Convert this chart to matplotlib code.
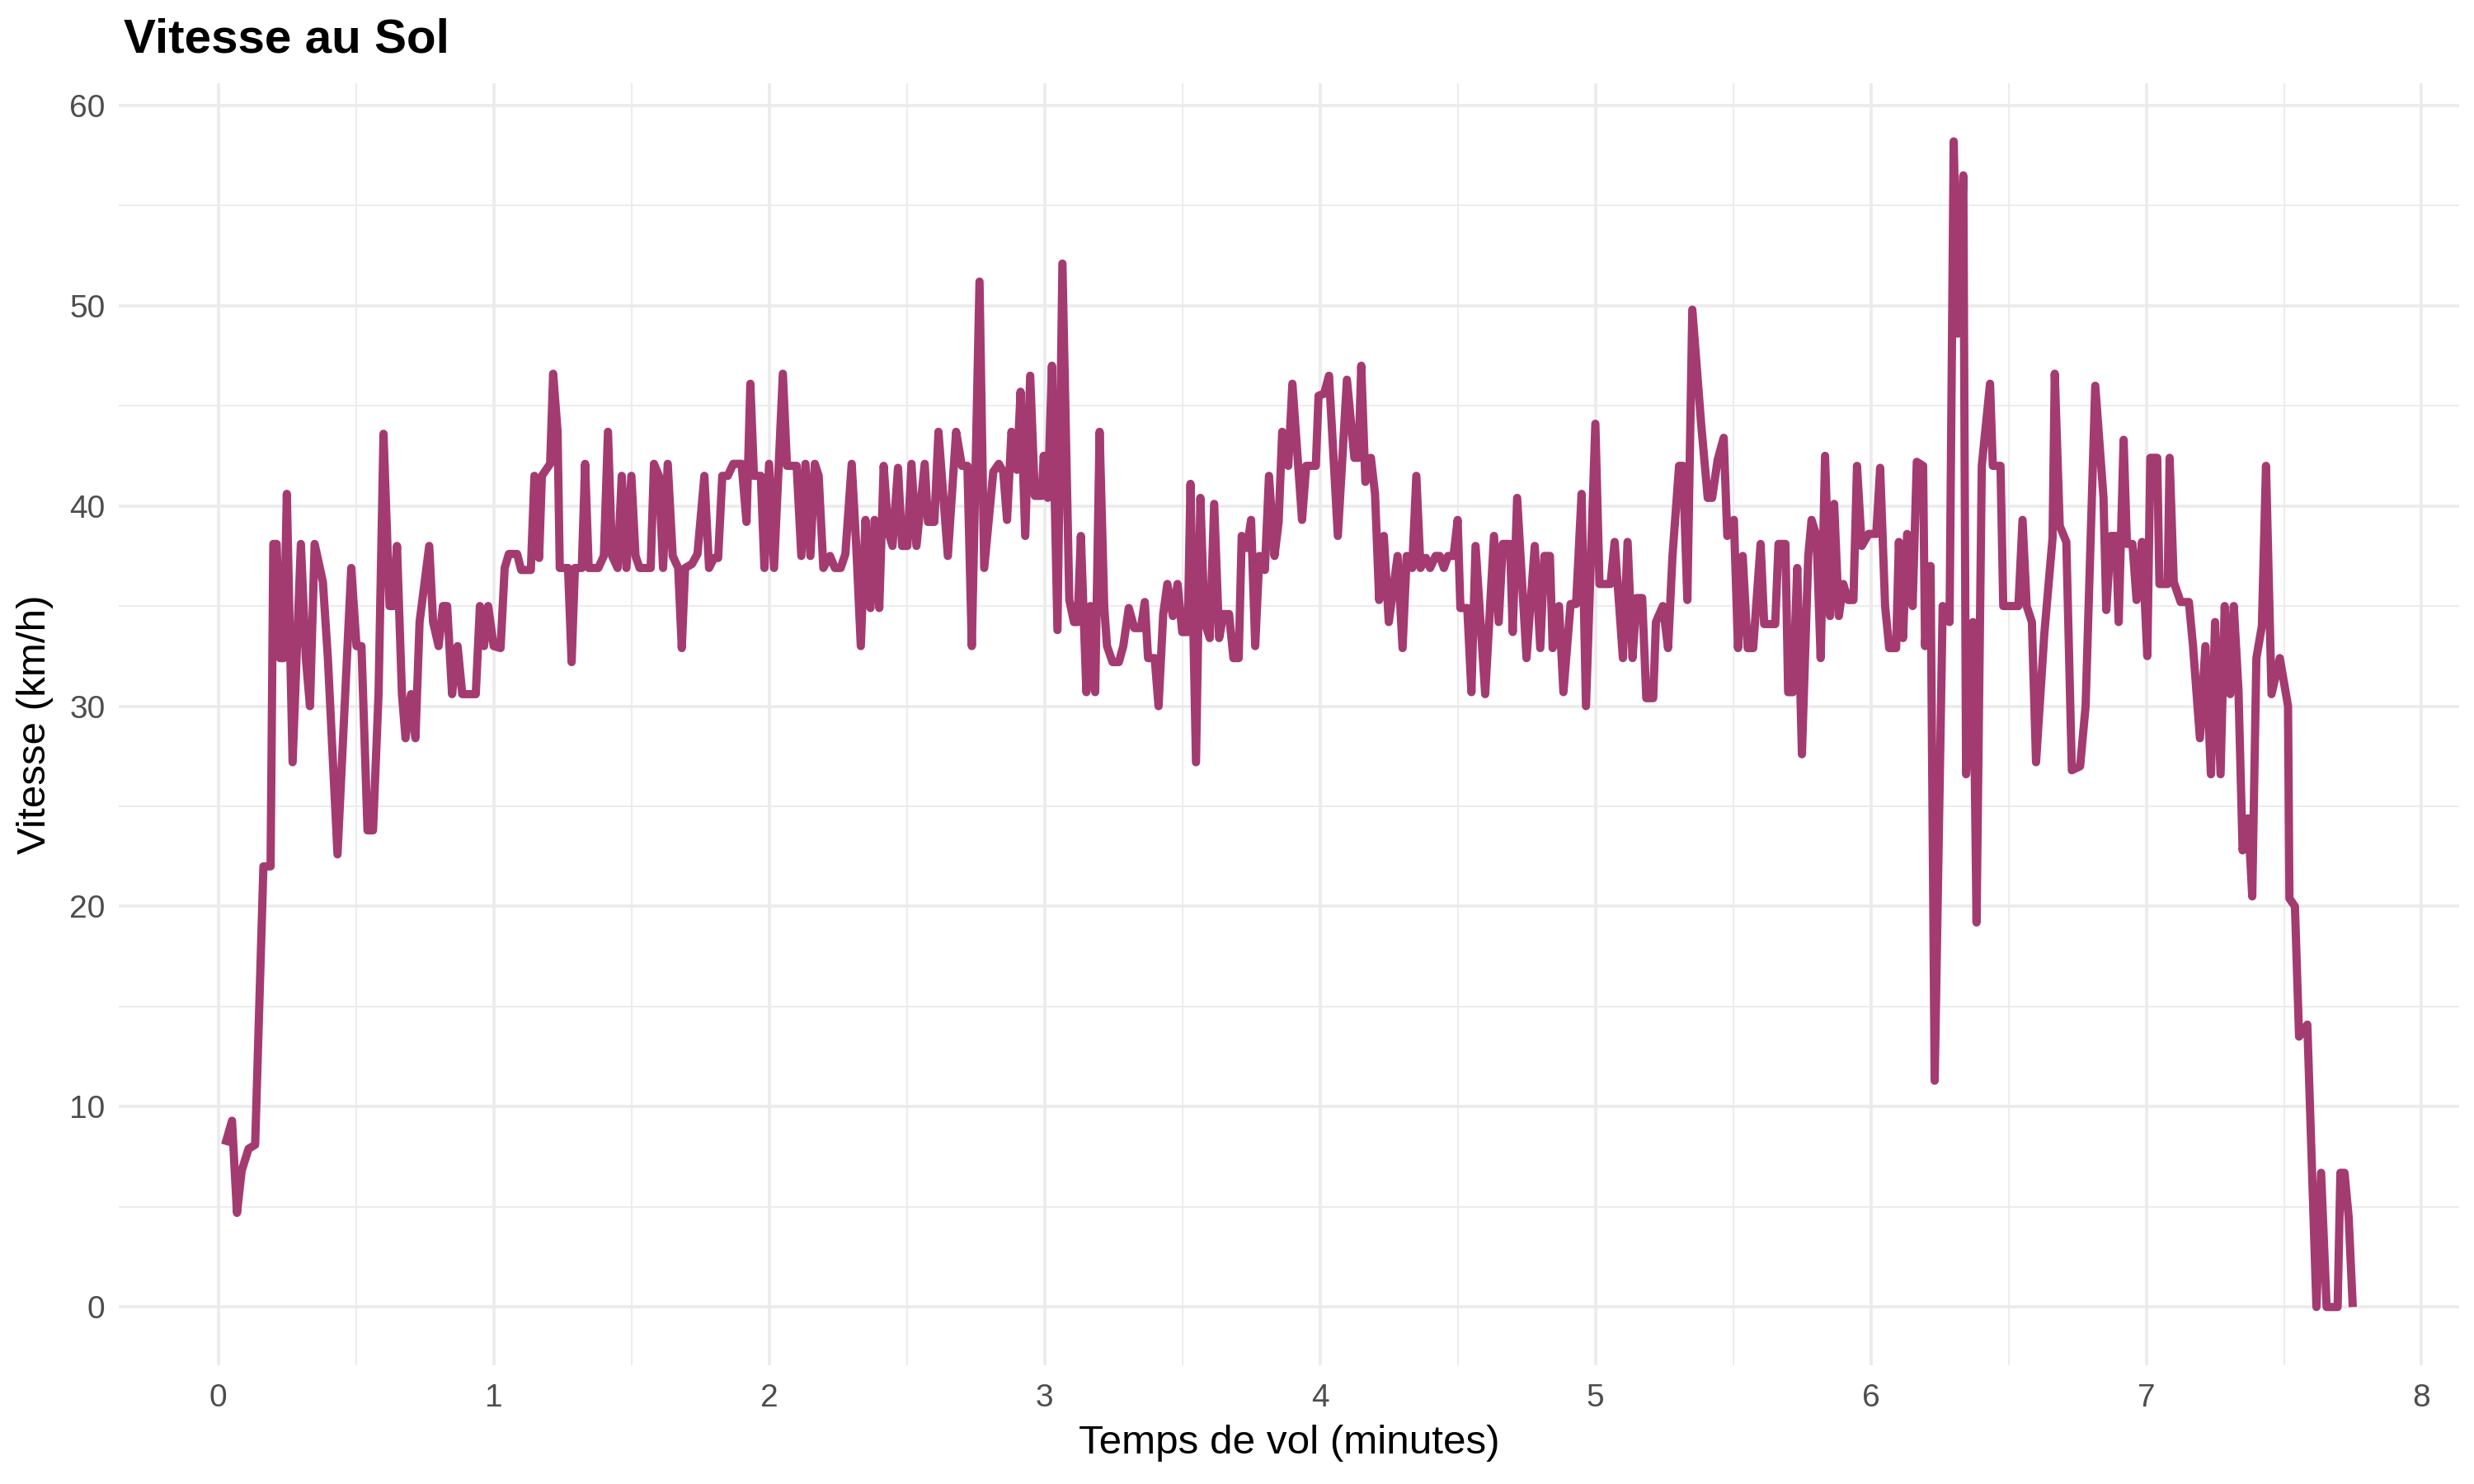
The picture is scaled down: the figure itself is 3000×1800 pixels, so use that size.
import matplotlib
matplotlib.use('Agg')
import matplotlib.pyplot as plt
from matplotlib.ticker import MultipleLocator

# temps de vol (minutes) et vitesse au sol (km/h)
temps_a = [0.025, 0.05, 0.068, 0.085, 0.11, 0.134, 0.164, 0.19, 0.2, 0.212, 0.224, 0.237, 0.249, 0.27, 0.3,
           0.318, 0.333, 0.35, 0.38, 0.398, 0.433, 0.483, 0.502, 0.52, 0.542, 0.562, 0.582, 0.6, 0.622, 0.636,
           0.649, 0.667, 0.68, 0.7, 0.716, 0.731, 0.766, 0.78, 0.8, 0.816, 0.831, 0.849, 0.869, 0.886, 0.935,
           0.95, 0.965, 0.98, 1.0]
vitesse_a = [8.1, 9.3, 4.7, 6.8, 7.9, 8.1, 22.0, 22.0, 38.1, 38.1, 32.4, 32.4, 40.6, 27.2, 38.1,
             32.4, 30.0, 38.1, 36.2, 32.4, 22.6, 36.9, 33.0, 33.0, 23.8, 23.8, 30.6, 43.6, 35.0, 35.0,
             38.0, 30.6, 28.4, 30.6, 28.4, 34.2, 38.0, 34.2, 33.0, 35.0, 35.0, 30.6, 33.0, 30.6, 30.6,
             35.0, 33.0, 35.0, 33.0]

temps_b = [1.025, 1.04, 1.055, 1.085, 1.1, 1.135, 1.148, 1.165, 1.175, 1.205, 1.216, 1.232, 1.24, 1.27, 1.283,
           1.295, 1.32, 1.332, 1.345, 1.38, 1.40, 1.415, 1.43, 1.45, 1.465, 1.482, 1.5, 1.515, 1.53, 1.57,
           1.582, 1.6, 1.615, 1.632, 1.65, 1.67, 1.683, 1.695, 1.72, 1.74, 1.765, 1.782, 1.80, 1.815, 1.83,
           1.85, 1.87, 1.9, 1.918, 1.932, 1.945, 1.97, 1.983]
vitesse_b = [32.9, 36.9, 37.6, 37.6, 36.8, 36.8, 41.5, 37.4, 41.5, 42.1, 46.6, 43.7, 36.9, 36.9, 32.2,
             36.9, 36.9, 42.1, 36.9, 36.9, 37.5, 43.7, 37.5, 36.9, 41.5, 36.9, 41.5, 37.5, 36.9, 36.9,
             42.1, 41.5, 36.9, 42.1, 37.5, 36.9, 32.9, 36.9, 37.1, 37.6, 41.5, 36.9, 37.4, 37.4, 41.5,
             41.5, 42.1, 42.1, 39.2, 46.1, 41.5, 41.5, 36.9]

temps_c = [2.0, 2.018, 2.05, 2.065, 2.1, 2.117, 2.132, 2.15, 2.166, 2.18, 2.197, 2.221, 2.239, 2.26, 2.277,
           2.3, 2.316, 2.333, 2.35, 2.368, 2.383, 2.40, 2.416, 2.433, 2.448, 2.468, 2.483, 2.502, 2.517, 2.535,
           2.565, 2.577, 2.60, 2.615, 2.649, 2.679, 2.70, 2.72, 2.736, 2.764, 2.781, 2.814, 2.834, 2.85, 2.864,
           2.88, 2.90, 2.913, 2.93, 2.948, 2.965, 2.99]
vitesse_c = [42.1, 36.9, 46.6, 42.0, 42.0, 37.5, 42.1, 37.5, 42.1, 41.5, 36.9, 37.5, 36.9, 36.9, 37.6,
             42.1, 38.1, 33.0, 39.3, 34.9, 39.3, 34.9, 42.0, 38.7, 38.0, 41.9, 38.0, 38.0, 42.1, 38.0,
             42.1, 39.2, 39.2, 43.7, 37.5, 43.7, 42.0, 42.0, 33.0, 51.2, 36.9, 41.7, 42.1, 41.7, 39.3,
             43.7, 41.8, 45.7, 38.5, 46.5, 40.5, 40.5]

temps_d = [2.997, 3.012, 3.027, 3.047, 3.065, 3.09, 3.107, 3.12, 3.132, 3.152, 3.167, 3.184, 3.2, 3.217, 3.227,
           3.247, 3.27, 3.286, 3.306, 3.326, 3.35, 3.364, 3.376, 3.40, 3.414, 3.431, 3.446, 3.466, 3.483, 3.50,
           3.52, 3.53, 3.55, 3.566, 3.581, 3.60, 3.616, 3.634, 3.65, 3.67, 3.686, 3.705, 3.716, 3.735, 3.75,
           3.765, 3.78, 3.80, 3.815, 3.835, 3.85, 3.863, 3.885, 3.90, 3.935, 3.95, 3.985, 3.995]
vitesse_d = [42.5, 40.4, 47.0, 33.8, 52.1, 35.3, 34.2, 34.2, 38.5, 30.7, 35.0, 30.7, 43.7, 34.9, 33.0,
             32.2, 32.2, 33.0, 34.9, 33.9, 33.9, 35.2, 32.4, 32.4, 30.0, 34.6, 36.1, 34.5, 36.1, 33.7,
             33.7, 41.1, 27.2, 40.4, 34.2, 33.4, 40.1, 33.4, 34.6, 34.6, 32.4, 32.4, 38.5, 37.9, 39.3,
             33.0, 37.5, 36.8, 41.5, 37.5, 39.2, 43.7, 42.0, 46.1, 39.3, 42.0, 42.0, 45.5]

temps_e = [4.015, 4.033, 4.065, 4.098, 4.125, 4.14, 4.15, 4.165, 4.185, 4.2, 4.215, 4.232, 4.25, 4.282, 4.3,
           4.315, 4.335, 4.35, 4.365, 4.385, 4.40, 4.42, 4.435, 4.45, 4.465, 4.485, 4.5, 4.51, 4.535, 4.55,
           4.565, 4.6, 4.632, 4.649, 4.664, 4.69, 4.70, 4.716, 4.75, 4.78, 4.80, 4.815, 4.835, 4.845, 4.868,
           4.884, 4.91, 4.93, 4.95, 4.966]
vitesse_e = [45.6, 46.5, 38.5, 46.3, 42.4, 42.4, 47.0, 41.2, 42.4, 40.6, 35.3, 38.5, 34.2, 37.5, 32.9,
             37.5, 36.9, 41.5, 36.9, 37.4, 36.9, 37.5, 37.5, 36.9, 37.5, 37.5, 39.3, 34.9, 34.9, 30.7,
             38.0, 30.6, 38.5, 34.2, 38.1, 38.1, 33.7, 40.4, 32.4, 38.0, 32.9, 37.5, 37.5, 32.9, 35.0,
             30.7, 35.1, 35.1, 40.6, 30.0]

temps_f = [5.0, 5.015, 5.055, 5.07, 5.1, 5.117, 5.135, 5.15, 5.17, 5.185, 5.21, 5.22, 5.245, 5.264, 5.28,
           5.304, 5.318, 5.334, 5.352, 5.384, 5.408, 5.424, 5.444, 5.466, 5.479, 5.503, 5.518, 5.535, 5.553, 5.573,
           5.60, 5.613, 5.653, 5.665, 5.69, 5.70, 5.717, 5.733, 5.75, 5.773, 5.785, 5.803, 5.818, 5.834, 5.852,
           5.867, 5.884, 5.90, 5.918, 5.937, 5.95, 5.967, 5.992, 6.02]
vitesse_f = [44.1, 36.1, 36.1, 38.2, 32.4, 38.2, 32.4, 35.4, 35.4, 30.4, 30.4, 34.2, 35.0, 32.9, 37.5,
             42.0, 42.0, 35.3, 49.8, 44.1, 40.4, 40.4, 42.3, 43.4, 38.5, 39.3, 32.9, 37.5, 32.9, 32.9,
             38.1, 34.1, 34.1, 38.1, 38.1, 30.7, 30.7, 36.9, 27.6, 37.5, 39.3, 38.5, 32.4, 42.5, 34.5,
             40.1, 34.5, 36.1, 35.3, 35.3, 42.0, 38.0, 38.6, 38.6]

temps_g = [6.034, 6.052, 6.067, 6.092, 6.102, 6.117, 6.132, 6.152, 6.167, 6.19, 6.197, 6.217, 6.232, 6.261, 6.286,
           6.301, 6.316, 6.336, 6.346, 6.371, 6.384, 6.403, 6.433, 6.443, 6.471, 6.481, 6.536, 6.551, 6.566, 6.585,
           6.60, 6.63, 6.66, 6.668, 6.686, 6.71, 6.73, 6.76, 6.78, 6.815, 6.845, 6.855, 6.872, 6.89, 6.90,
           6.918, 6.93, 6.95, 6.965, 6.985]
vitesse_g = [41.9, 35.0, 32.9, 32.9, 38.2, 33.4, 38.6, 35.0, 42.2, 42.0, 33.0, 37.0, 11.3, 35.0, 34.2,
             58.2, 48.6, 56.5, 26.6, 34.2, 19.2, 42.0, 46.1, 42.0, 42.0, 35.0, 35.0, 39.3, 35.0, 34.2,
             27.2, 33.6, 38.4, 46.6, 39.0, 38.2, 26.8, 27.0, 30.0, 46.0, 40.4, 34.8, 38.5, 38.5, 34.2,
             43.3, 38.1, 38.1, 35.3, 38.2]

temps_h = [7.004, 7.015, 7.04, 7.048, 7.078, 7.085, 7.10, 7.125, 7.155, 7.17, 7.195, 7.215, 7.235, 7.25, 7.27,
           7.285, 7.305, 7.318, 7.335, 7.35, 7.37, 7.385, 7.40, 7.42, 7.435, 7.455, 7.485, 7.515, 7.52, 7.54,
           7.555, 7.585, 7.618, 7.635, 7.655, 7.695, 7.705, 7.72, 7.735, 7.75]
vitesse_h = [32.5, 42.4, 42.4, 36.1, 36.1, 42.4, 36.2, 35.2, 35.2, 33.0, 28.4, 33.0, 26.6, 34.2, 26.6,
             35.0, 30.6, 35.0, 30.8, 22.8, 24.4, 20.5, 32.4, 34.0, 42.0, 30.6, 32.4, 30.0, 20.4, 20.0,
             13.5, 14.1, 0.0, 6.7, 0.0, 0.0, 6.7, 6.7, 4.5, 0.0]

temps = temps_a + temps_b + temps_c + temps_d + temps_e + temps_f + temps_g + temps_h
vitesse = vitesse_a + vitesse_b + vitesse_c + vitesse_d + vitesse_e + vitesse_f + vitesse_g + vitesse_h

couleur = '#A33B71'

plt.rcParams['font.family'] = ['Liberation Sans', 'DejaVu Sans']

fig, ax = plt.subplots(figsize=(15, 9), dpi=200)
fig.subplots_adjust(left=0.048, right=0.994, top=0.944, bottom=0.080)

ax.plot(temps, vitesse, color=couleur, linewidth=3.6, solid_joinstyle='round', solid_capstyle='butt', zorder=3)

ax.xaxis.set_major_locator(MultipleLocator(1))
ax.xaxis.set_minor_locator(MultipleLocator(0.5))
ax.yaxis.set_major_locator(MultipleLocator(10))
ax.yaxis.set_minor_locator(MultipleLocator(5))
ax.grid(which='major', color='#EBEBEB', linewidth=1.3)
ax.grid(which='minor', color='#EBEBEB', linewidth=0.65)
ax.set_axisbelow(True)
for s in ax.spines.values():
    s.set_visible(False)
ax.tick_params(which='both', length=0, labelsize=14, labelcolor='#4D4D4D')
ax.tick_params(axis='x', pad=8)
ax.tick_params(axis='y', pad=6)

ax.set_xlabel('Temps de vol (minutes)', fontsize=17.8, color='black', labelpad=5)
ax.set_ylabel('Vitesse (km/h)', fontsize=17.8, color='black', labelpad=7)
fig.text(0.05, 0.965, 'Vitesse au Sol', fontsize=21, fontweight='bold', ha='left', va='baseline')

fig.savefig('out.png', dpi=200, facecolor='white')
